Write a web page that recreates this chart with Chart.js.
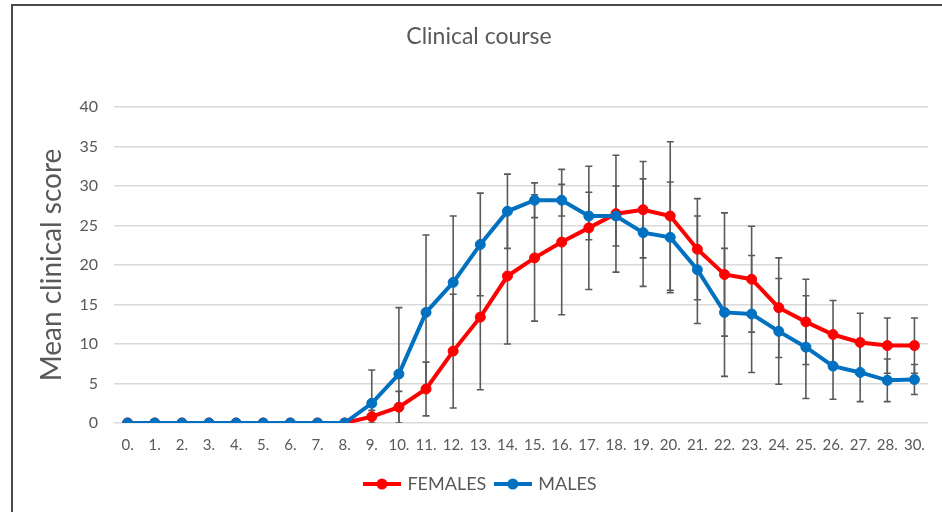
<!DOCTYPE html>
<html>
<head>
<meta charset="utf-8">
<script src="https://cdn.jsdelivr.net/npm/chart.js@4/dist/chart.umd.min.js"></script>
<style>
  html, body { margin: 0; padding: 0; background: #fff; }
  #wrap { position: relative; width: 942px; height: 512px; overflow: hidden; }
  #myChart { position: absolute; left: 0; top: 0; }
  #frame {
    position: absolute; left: 11px; top: 4px; width: 960px; height: 506px;
    border-top: 2px solid #4a4a4a; border-left: 2px solid #4a4a4a; border-bottom: 1px solid #b5b5b5;
    pointer-events: none;
  }
</style>
</head>
<body>
<div id="wrap">
  <canvas id="myChart" width="942" height="512"></canvas>
  <div id="frame"></div>
</div>
<script>
const days = ['0.','1.','2.','3.','4.','5.','6.','7.','8.','9.','10.','11.','12.','13.','14.','15.','16.','17.','18.','19.','20.','21.','22.','23.','24.','25.','26.','27.','28.','30.'];

const females = [0,0,0,0,0,0,0,0,0,0.8,2.0,4.3,9.1,13.4,18.6,20.9,22.9,24.7,26.5,27.0,26.2,22.0,18.8,18.2,14.6,12.8,11.2,10.2,9.8,9.8];
const femalesSD = [0,0,0,0,0,0,0,0,0,0.8,2.0,3.4,7.2,9.2,8.6,8.0,9.2,7.8,7.4,6.1,9.4,6.4,7.8,6.7,6.3,5.4,4.3,3.7,3.5,3.5];

const males = [0,0,0,0,0,0,0,0,0,2.5,6.2,14.0,17.8,22.6,26.8,28.2,28.2,26.2,26.2,24.1,23.5,19.4,14.0,13.8,11.6,9.6,7.2,6.4,5.4,5.5];
const malesSD = [0,0,0,0,0,0,0,0,0,4.2,8.4,9.8,8.4,6.5,4.7,2.2,2.0,3.0,3.8,6.8,7.0,6.8,8.1,7.4,6.7,6.5,4.2,3.7,2.7,1.9];

const yTicks = [0,5,10,15,20,25,30,35,40];

const textColor = '#595959';
const fontName = 'Lato, "Open Sans", sans-serif';

// legend symbol: short line with a dot
function legendSymbol(color) {
	const c = document.createElement('canvas');
	c.width = 38; c.height = 12;
	const g = c.getContext('2d');
	g.strokeStyle = color;
	g.lineWidth = 4;
	g.beginPath();
	g.moveTo(0, 6); g.lineTo(38, 6);
	g.stroke();
	g.fillStyle = color;
	g.beginPath();
	g.arc(19, 6, 5.5, 0, Math.PI * 2);
	g.fill();
	return c;
}

// draws +/- SD bars behind the lines
const errorBars = {
	id: 'errorBars',
	beforeDatasetsDraw(chart) {
		const ctx = chart.ctx;
		const y = chart.scales.y;
		const area = chart.chartArea;
		ctx.save();
		ctx.beginPath();
		ctx.rect(0, area.top - 2, chart.width, area.bottom - area.top + 2);
		ctx.clip();
		ctx.strokeStyle = '#5a5a5a';
		ctx.lineWidth = 1.6;
		chart.data.datasets.forEach((ds, i) => {
			const meta = chart.getDatasetMeta(i);
			meta.data.forEach((pt, j) => {
				const sd = ds.errors[j];
				if (!sd) return;
				const v = ds.data[j];
				const top = y.getPixelForValue(v + sd);
				const bot = y.getPixelForValue(v - sd);
				const x = pt.x;
				ctx.beginPath();
				ctx.moveTo(x, top); ctx.lineTo(x, bot);
				ctx.moveTo(x - 3.5, top); ctx.lineTo(x + 3.5, top);
				ctx.moveTo(x - 3.5, bot); ctx.lineTo(x + 3.5, bot);
				ctx.stroke();
			});
		});
		ctx.restore();
	}
};

// nudge the title and legend a little to the right, as in the original
const blockShift = {
	id: 'blockShift',
	afterLayout(chart) {
		chart.legend.left += 17;
		chart.legend.right += 17;
		chart.titleBlock.left += 30;
	}
};

const ctx = document.getElementById('myChart').getContext('2d');
new Chart(ctx, {
	type: 'line',
	data: {
		labels: days,
		datasets: [{
			label: 'FEMALES',
			data: females,
			errors: femalesSD,
			borderColor: '#ff0000',
			backgroundColor: '#ff0000',
			pointBackgroundColor: '#ff0000',
			pointBorderColor: '#ff0000',
			borderWidth: 4,
			pointRadius: 5,
			pointBorderWidth: 1,
			tension: 0,
			order: 1
		}, {
			label: 'MALES',
			data: males,
			errors: malesSD,
			borderColor: '#0070c0',
			backgroundColor: '#0070c0',
			pointBackgroundColor: '#0070c0',
			pointBorderColor: '#0070c0',
			borderWidth: 4,
			pointRadius: 5,
			pointBorderWidth: 1,
			tension: 0,
			order: 0
		}]
	},
	options: {
		responsive: false,
		animation: false,
		layout: { padding: { left: 0, right: 14, top: 0, bottom: 9 } },
		plugins: {
			title: {
				display: true,
				text: 'Clinical course',
				color: textColor,
				font: { family: fontName, size: 23, weight: 'normal' },
				padding: { top: 23, bottom: 56.4 }
			},
			legend: {
				position: 'bottom',
				labels: {
					color: textColor,
					font: { family: fontName, size: 18 },
					usePointStyle: true,
					pointStyleWidth: 33,
					padding: 10,
					sort: (a, b) => a.datasetIndex - b.datasetIndex,
					generateLabels: (chart) => chart.data.datasets.map((ds, i) => ({
						text: ds.label,
						fillStyle: ds.borderColor,
						strokeStyle: ds.borderColor,
						fontColor: textColor,
						lineWidth: 0,
						pointStyle: legendSymbol(ds.borderColor),
						datasetIndex: i
					}))
				}
			},
			tooltip: { enabled: false }
		},
		scales: {
			x: {
				offset: true,
				grid: { display: false, drawTicks: false },
				border: { display: false },
				ticks: {
					color: textColor,
					font: { family: fontName, size: 15 },
					padding: 13,
					maxRotation: 0,
					autoSkip: false
				},
				afterFit: (scale) => { scale.height = 42; }
			},
			y: {
				min: 0,
				max: 40,
				afterBuildTicks: (scale) => { scale.ticks = yTicks.map(v => ({ value: v })); },
				grid: { color: '#d9d9d9', lineWidth: 1.5, drawTicks: false },
				border: { display: false },
				ticks: {
					color: textColor,
					font: { family: fontName, size: 16 },
					padding: 16
				},
				title: {
					display: true,
					text: 'Mean clinical score',
					color: textColor,
					font: { family: fontName, size: 28 },
					padding: { top: 35, bottom: 0 }
				},
				afterFit: (scale) => { scale.width = 114; }
			}
		}
	},
	plugins: [errorBars, blockShift]
});
</script>
</body>
</html>
